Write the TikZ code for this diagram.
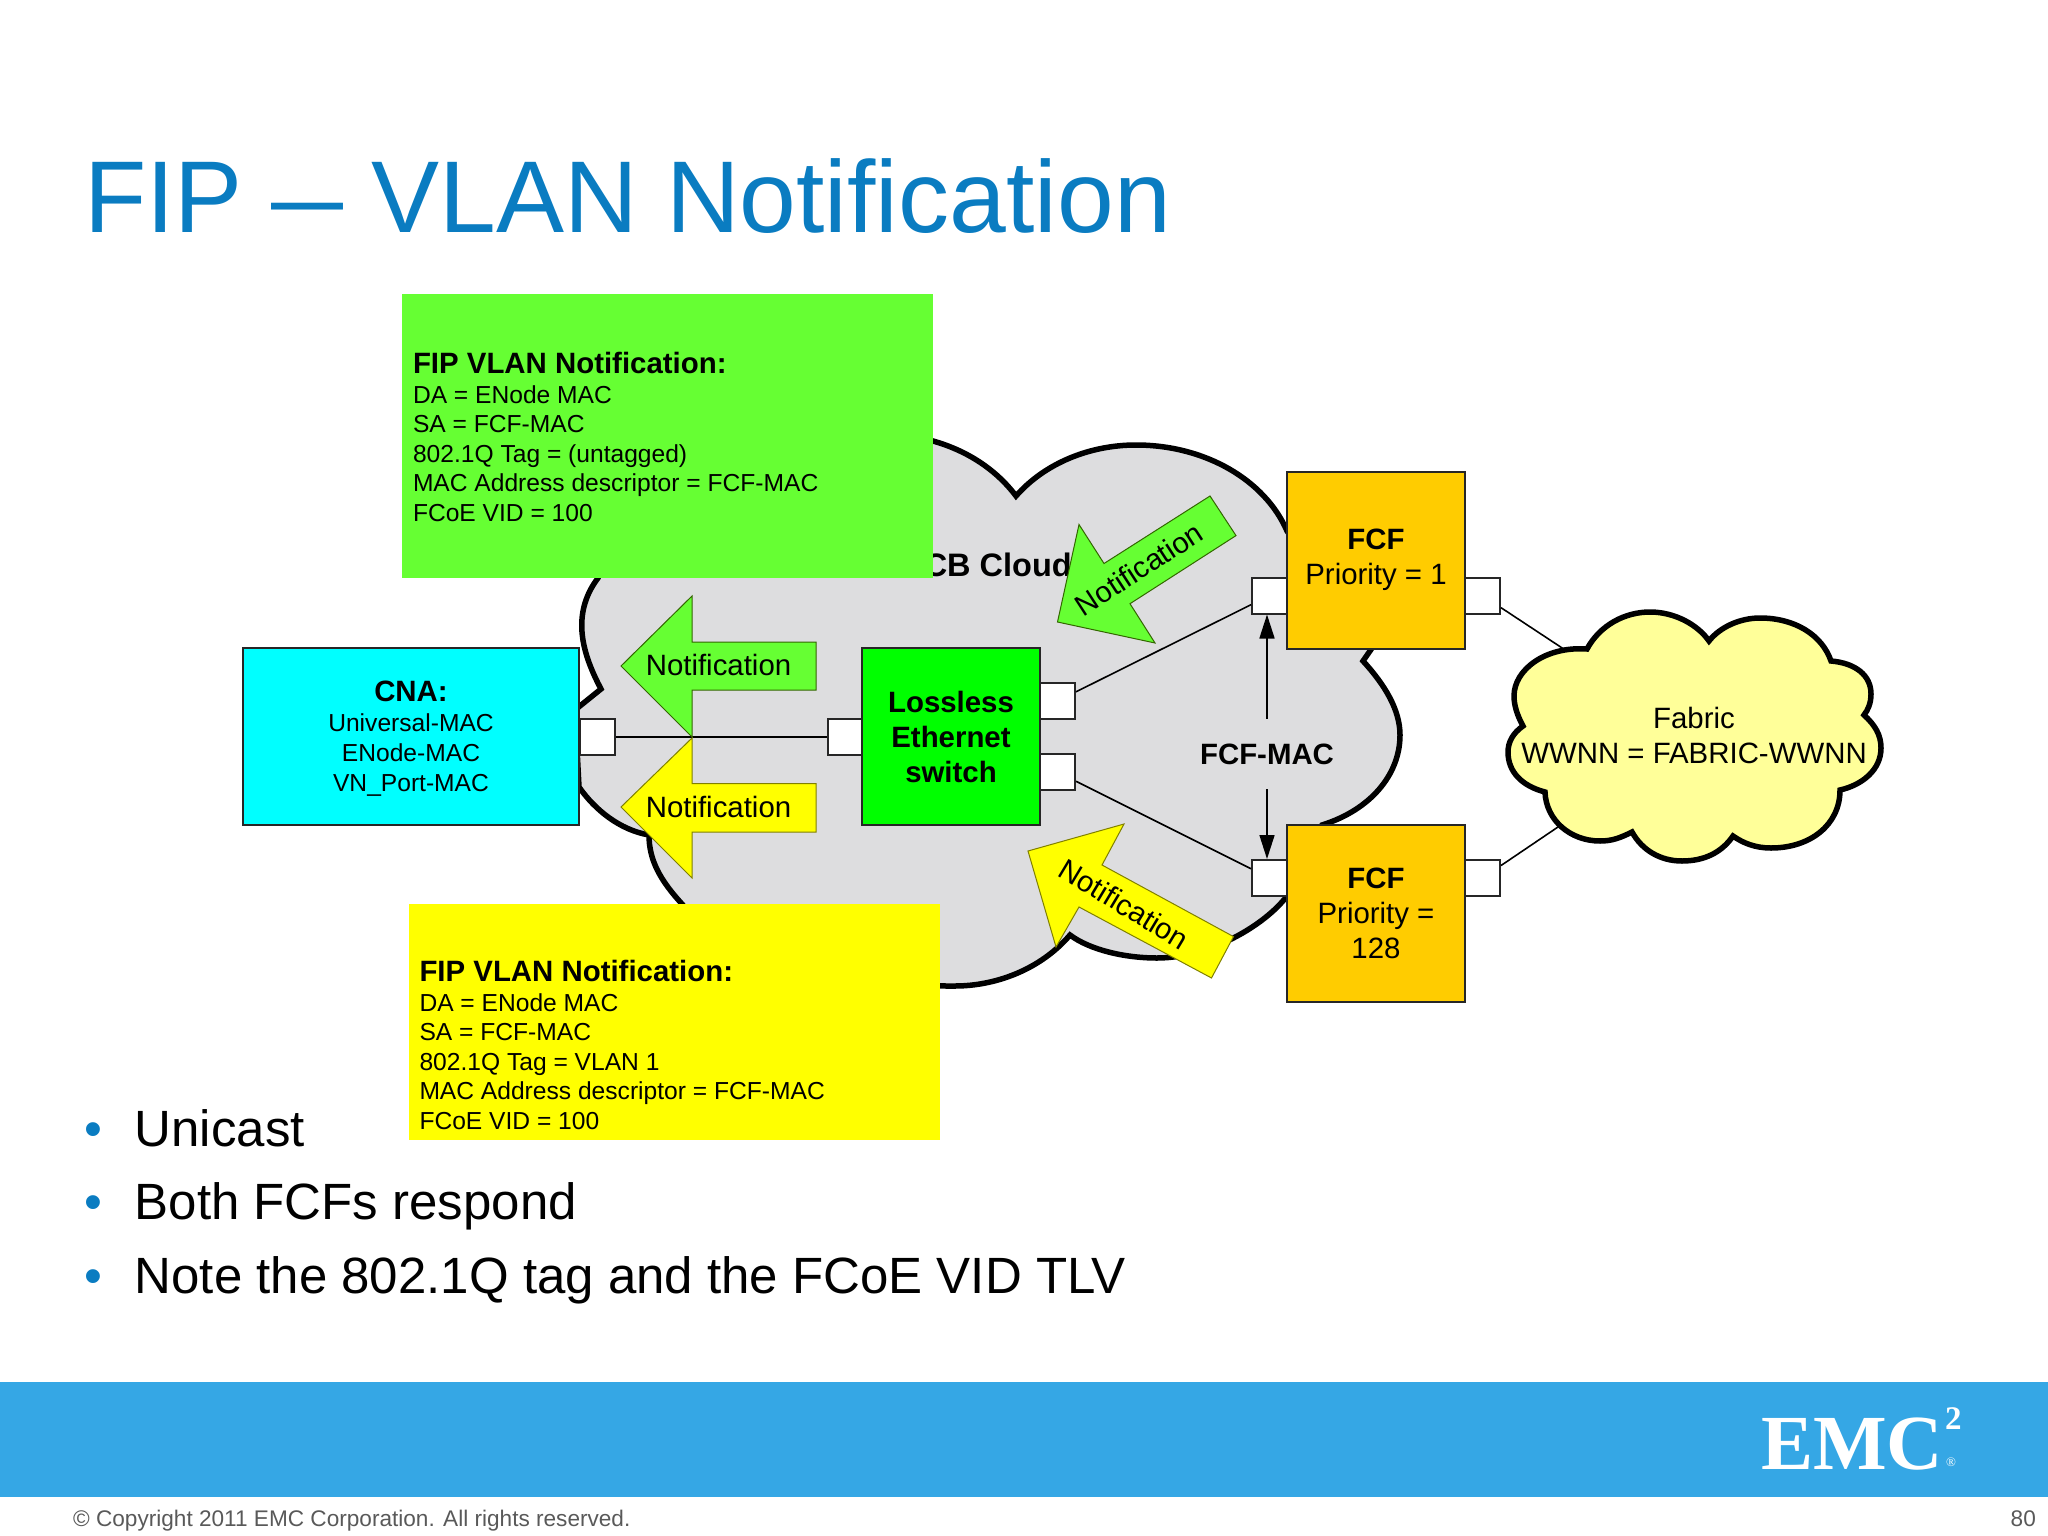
\documentclass[tikz,border=0pt]{standalone}
\usepackage{fontspec}
\setmainfont{Liberation Sans}
\newfontfamily\logofont{Liberation Serif}
\usetikzlibrary{arrows.meta}

\definecolor{titleblue}{HTML}{0A7CC1}
\definecolor{bannerblue}{HTML}{35A7E5}
\definecolor{footgrey}{HTML}{595959}
\definecolor{cloudgrey}{HTML}{DDDDDF}
\definecolor{fabricyellow}{HTML}{FFFF99}
\definecolor{notegreen}{HTML}{66FF33}
\definecolor{noteyellow}{HTML}{FFFF00}
\definecolor{notifyline}{HTML}{336600}
\definecolor{notifyellow}{HTML}{808000}
\definecolor{fcforange}{HTML}{FFCC00}
\definecolor{cnacyan}{HTML}{00FFFF}
\definecolor{switchgreen}{HTML}{00FF00}

\tikzset{
  devbox/.style={draw=black!85, line width=2pt, inner sep=0pt, align=center},
  portbox/.style={draw=black!85, fill=white, line width=2pt, inner sep=0pt, minimum width=35pt, minimum height=36pt},
  link/.style={draw=black, line width=1.6pt},
  cloudline/.style={draw=black, line width=5.5pt, line join=miter},
  notebox/.style={inner sep=0pt, minimum width=531pt},
  notetext/.style={inner sep=0pt, anchor=west, align=left, font=\fontsize{24.6}{29.5}\selectfont},
  notiftext/.style={inner sep=0pt, font=\fontsize{29.4}{33}\selectfont},
  itemtext/.style={inner sep=0pt, anchor=base west, font=\fontsize{51}{60}\selectfont},
  itemdot/.style={inner sep=0pt, anchor=base, text=titleblue, font=\fontsize{51}{60}\selectfont},
  foottext/.style={inner sep=0pt, anchor=base, text=footgrey, font=\fontsize{22.6}{26}\selectfont},
}

\begin{document}
\begin{tikzpicture}[x=1pt,y=-1pt]
\useasboundingbox (0,0) rectangle (2048,1536);

\node[inner sep=0pt, anchor=base west, text=titleblue, font=\fontsize{102}{120}\selectfont] (title) at (84,232) {FIP \scalebox{1.27}[1]{--} VLAN Notification};

% big cloud
\draw[cloudline, fill=cloudgrey] (601,689) .. controls (583,655) and (570,615) .. (598,578)
  .. controls (620,520) and (800,410) .. (933,441)
  .. controls (965,450) and (995,468) .. (1016,496)
  .. controls (1045,463) and (1090,445) .. (1136,445)
  .. controls (1205,445) and (1265,480) .. (1287,531)
  -- (1372,648) -- (1363,661)
  .. controls (1385,685) and (1400,710) .. (1400,735)
  .. controls (1400,775) and (1370,810) .. (1322,825)
  -- (1287,896)
  .. controls (1265,925) and (1210,958) .. (1157,958)
  .. controls (1125,958) and (1090,950) .. (1070,935)
  .. controls (1040,970) and (995,986) .. (955,986)
  .. controls (900,988) and (720,950) .. (682,904)
  .. controls (660,880) and (649,860) .. (649,835)
  .. controls (620,830) and (595,810) .. (579,787)
  -- (575,710) -- cycle;
\node[inner sep=0pt, anchor=base east, font=\fontsize{32.5}{38}\selectfont\bfseries] (dcb) at (1072,576) {DCB Cloud};

% ports
\node[portbox] (cnaport) at (597.5,737) {};
\node[portbox] (swleft) at (845,737) {};
\node[portbox] (swtop) at (1057.5,701) {};
\node[portbox] (swbot) at (1057.5,772) {};
\node[portbox] (fcfaleft) at (1269.5,595.5) {};
\node[portbox] (fcfaright) at (1482.5,595.5) {};
\node[portbox] (fcfbleft) at (1269.5,878) {};
\node[portbox] (fcfbright) at (1482.5,878) {};
\coordinate (fabriccentre) at (1694,735);

\draw[link] (cnaport) -- (swleft);
\draw[link] (swtop) -- (fcfaleft);
\draw[link] (swbot) -- (fcfbleft);
\draw[link] (fcfaright) -- (fabriccentre);
\draw[link] (fcfbright) -- (fabriccentre);

% fabric cloud
\draw[cloudline, fill=fabricyellow] (1587,649) .. controls (1600,625) and (1625,612) .. (1650,612)
  .. controls (1675,612) and (1698,625) .. (1709,641)
  .. controls (1720,627) and (1740,618) .. (1760,618)
  .. controls (1795,618) and (1822,635) .. (1831,661)
  .. controls (1855,663) and (1871,675) .. (1871,694)
  .. controls (1871,703) and (1868,710) .. (1864,715)
  .. controls (1875,725) and (1881,735) .. (1881,748)
  .. controls (1881,770) and (1862,785) .. (1840,790)
  .. controls (1840,825) and (1810,848) .. (1771,848)
  .. controls (1755,848) and (1743,843) .. (1733,836)
  .. controls (1722,852) and (1705,861) .. (1682,861)
  .. controls (1660,861) and (1642,850) .. (1632,832)
  .. controls (1620,838) and (1612,841) .. (1600,841)
  .. controls (1570,841) and (1546,820) .. (1545,792)
  .. controls (1522,786) and (1508,772) .. (1508,752)
  .. controls (1508,742) and (1513,733) .. (1523,726)
  .. controls (1517,715) and (1514,705) .. (1514,696)
  .. controls (1514,670) and (1545,646) .. (1587,649) -- cycle;
\node[inner sep=0pt, align=center, font=\fontsize{29.4}{35}\selectfont] (fabric) at (fabriccentre) {Fabric\\WWNN = FABRIC-WWNN};

% devices
\node[devbox, fill=cnacyan, minimum width=336pt, minimum height=177pt] (cna) at (411,736.5) {};
\node[inner sep=0pt, align=center, font=\fontsize{24.6}{30}\selectfont] (cnatext) at ([yshift=-2pt]cna.center)
  {{\fontsize{29.4}{30}\selectfont\bfseries CNA:}\\Universal-MAC\\ENode-MAC\\VN\_Port-MAC};
\node[devbox, fill=switchgreen, minimum width=177.5pt, minimum height=177pt, font=\fontsize{29.4}{35}\selectfont\bfseries] (switch) at (951,736.5)
  {Lossless\\Ethernet\\switch};
\node[devbox, fill=fcforange, minimum width=178pt, minimum height=177pt, font=\fontsize{29.4}{35}\selectfont] (fcfa) at (1376,560)
  {{\bfseries FCF}\\Priority = 1};
\node[devbox, fill=fcforange, minimum width=178pt, minimum height=177pt, font=\fontsize{29.4}{35}\selectfont] (fcfb) at (1376,913.5)
  {{\bfseries FCF}\\Priority =\\128};

% FCF-MAC label with its arrows
\node[inner sep=0pt, minimum height=70pt, font=\fontsize{29.4}{35}\selectfont\bfseries] (fcfmac) at (1267,754) {FCF-MAC};
\draw[link, -{Triangle[length=24pt,width=15pt]}] (fcfmac.north) -- (fcfmac.north |- fcfaleft.south);
\draw[link, -{Triangle[length=24pt,width=15pt]}] (fcfmac.south) -- (fcfmac.south |- fcfbleft.north);

% notification arrows
\draw[line width=1pt, draw=notifyline, fill=notegreen] (621,666) -- (692,596) -- (692,642) -- (816,642) -- (816,690) -- (692,690) -- (692,737) -- cycle;
\draw[line width=1pt, draw=notifyellow, fill=noteyellow] (621,807) -- (692,738) -- (692,783.5) -- (816,783.5) -- (816,832) -- (692,832) -- (692,878) -- cycle;
\draw[line width=1pt, draw=notifyline, fill=notegreen] (1057.5,622) -- (1079,524.5) -- (1104,563.5) -- (1210,496) -- (1236,535.6) -- (1130,603.7) -- (1155,643) -- cycle;
\draw[line width=1pt, draw=notifyellow, fill=noteyellow] (1028,851) -- (1124,824) -- (1102,865) -- (1233.5,936.6) -- (1211.5,978) -- (1079,907) -- (1056,947) -- cycle;
\node[notiftext] (notifa) at (718.5,665) {Notification};
\node[notiftext] (notifb) at (718.5,807) {Notification};
\node[notiftext, rotate=33] (notifc) at (1139,569) {Notification};
\node[notiftext, rotate=-31] (notifd) at (1124,904) {Notification};

% note boxes
\node[notebox, fill=notegreen, minimum height=284pt] (greennote) at (667.5,436) {};
\node[notebox, fill=noteyellow, minimum height=236pt] (yellownote) at (674.5,1022) {};
\node[notetext] (greentext) at ([xshift=11pt,yshift=-1pt]greennote.west)
  {{\fontsize{29.4}{32}\selectfont\bfseries FIP VLAN Notification:}\\DA = ENode MAC\\SA = FCF-MAC\\802.1Q Tag = (untagged)\\MAC Address descriptor = FCF-MAC\\FCoE VID = 100};
\node[notetext] (yellowtext) at ([xshift=10.5pt,yshift=-23pt]yellownote.west)
  {{\fontsize{29.4}{32}\selectfont\bfseries FIP VLAN Notification:}\\DA = ENode MAC\\SA = FCF-MAC\\802.1Q Tag = VLAN 1\\MAC Address descriptor = FCF-MAC\\FCoE VID = 100};

% bullets
\node[itemdot] (dota) at (93,1146) {•};
\node[itemdot] (dotb) at (93,1219.6) {•};
\node[itemdot] (dotc) at (93,1293) {•};
\node[itemtext] (itema) at (134.5,1146) {Unicast};
\node[itemtext] (itemb) at (134.5,1219.6) {Both FCFs respond};
\node[itemtext] (itemc) at (134.5,1293) {Note the 802.1Q tag and the FCoE VID TLV};

% banner and footer
\fill[bannerblue] (0,1382) rectangle (2048,1497);
\node[inner sep=0pt, anchor=base west, text=white, font=\logofont\fontsize{78}{90}\selectfont\bfseries] (emc) at (1761,1469) {EMC};
\node[inner sep=0pt, anchor=base west, text=white, font=\logofont\fontsize{33}{38}\selectfont\bfseries] (emctwo) at (1945,1429) {2};
\node[inner sep=0pt, text=white, font=\logofont\fontsize{13}{15}\selectfont] (emcreg) at (1951,1462) {®};
\node[foottext, anchor=base west] (copyright) at (73,1526) {© Copyright 2011 EMC Corporation. All rights reserved.};
\node[foottext, anchor=base east] (pagenum) at (2036,1526) {80};
\end{tikzpicture}
\end{document}
